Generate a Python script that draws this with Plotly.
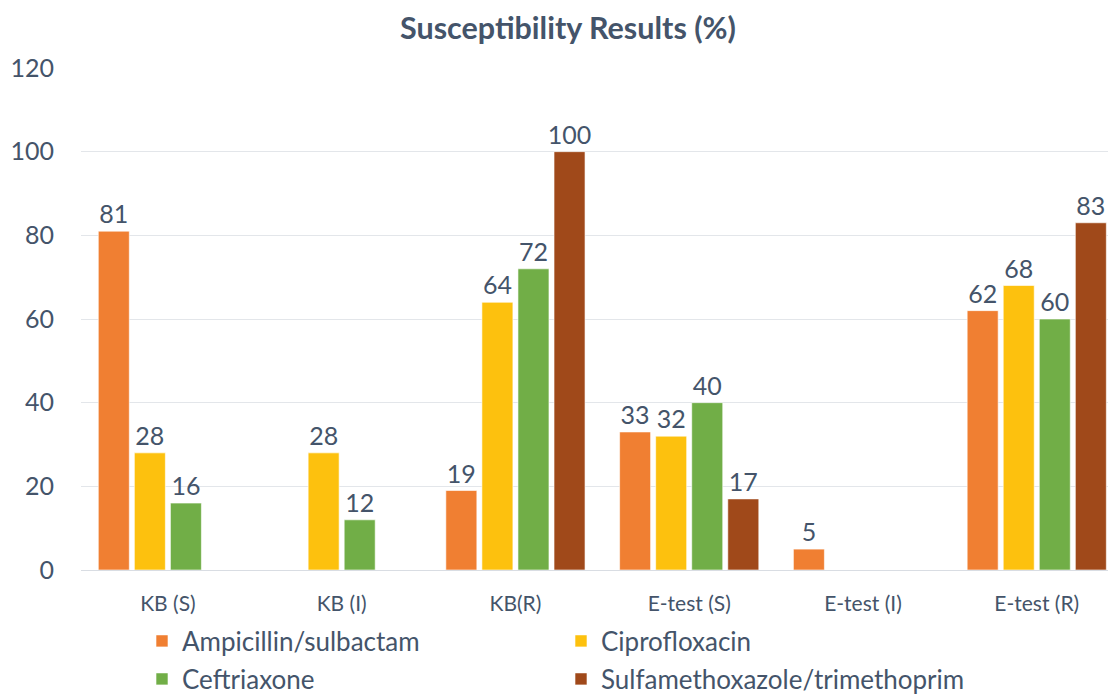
import plotly.graph_objects as go

categories = ["KB (S)", "KB (I)", "KB(R)", "E-test (S)", "E-test (I)", "E-test (R)"]
ampicillin = [81, None, 19, 33, 5, 62]
ciprofloxacin = [28, 28, 64, 32, None, 68]
ceftriaxone = [16, 12, 72, 40, None, 60]
sulfa = [None, None, 100, 17, None, 83]

series = [
    ("Ampicillin/sulbactam", ampicillin, "#F07F32", "legend"),
    ("Ciprofloxacin", ciprofloxacin, "#FDC10E", "legend"),
    ("Ceftriaxone", ceftriaxone, "#71AE47", "legend2"),
    ("Sulfamethoxazole/trimethoprim", sulfa, "#A0491A", "legend2"),
]

TXT = "#44546A"
FONT = "Lato"

fig = go.Figure()
for name, vals, col, lg in series:
    fig.add_trace(go.Bar(
        x=categories, y=vals, name=name,
        marker=dict(color=col, line=dict(color="rgba(255,255,255,0.6)", width=1)),
        text=[("" if v is None else str(v)) for v in vals],
        textposition="outside",
        constraintext="none",
        textfont=dict(size=25, color=TXT, family=FONT),
        cliponaxis=False,
        legend=lg,
    ))

legend_common = dict(
    orientation="h", xanchor="left", yanchor="middle",
    font=dict(size=26, color=TXT, family=FONT),
    entrywidth=374, entrywidthmode="pixels",
    itemwidth=30, bgcolor="rgba(0,0,0,0)",
)

fig.update_layout(
    width=1108, height=695,
    margin=dict(l=81, r=0, t=68, b=125, autoexpand=False),
    paper_bgcolor="white", plot_bgcolor="white",
    barmode="group", bargap=0.17, bargroupgap=0.14,
    title=dict(text="<b>Susceptibility Results (%)</b>", x=568/1108, xanchor="center",
               y=1-28/695, yanchor="middle",
               font=dict(size=30.5, color=TXT, family=FONT)),
    xaxis=dict(range=[-0.5, 5.41], showgrid=False, showline=True,
               linecolor="#D9DDE3", linewidth=1, ticks="",
               ticklabelstandoff=15,
               tickfont=dict(size=21, color=TXT, family="Liberation Sans Narrow, Lato")),
    yaxis=dict(range=[0, 120], dtick=20, showgrid=True, gridcolor="#E3E6EA",
               gridwidth=1, zeroline=False, showline=False,
               tickfont=dict(size=25, color=TXT, family=FONT),
               ticklabelstandoff=26),
    legend=dict(x=(142-81)/1027, y=-(641-570)/502, **legend_common),
    legend2=dict(x=(142-81)/1027, y=-(679-570)/502, **legend_common),
)
fig.write_html("out.html", config={"displayModeBar": False},
               post_script="document.body.style.margin='0px';")
